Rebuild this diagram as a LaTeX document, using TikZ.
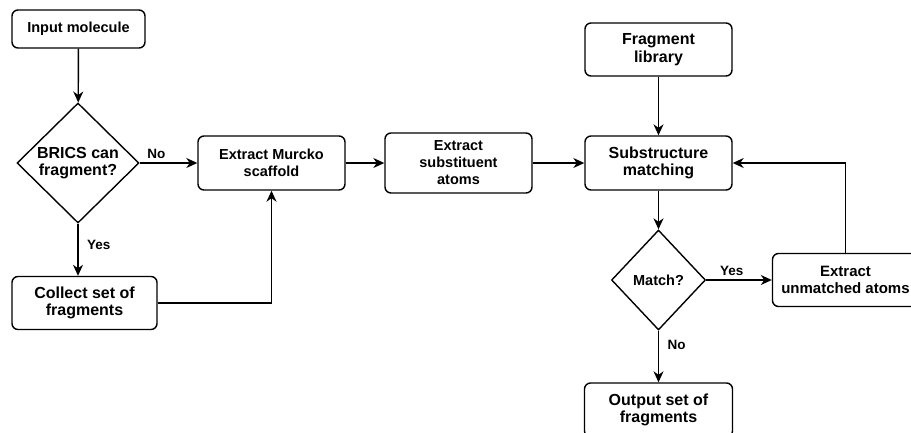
\documentclass[tikz,border=0pt]{standalone}
\usepackage{fontspec}
\setmainfont{Liberation Sans}
\usetikzlibrary{shapes.geometric,arrows.meta}
\tikzset{
  flowbox/.style={draw, line width=1.4pt, rounded corners=6pt, align=center, inner sep=0pt, minimum width=146pt, minimum height=54pt},
  choice/.style={draw, line width=1.4pt, diamond, align=center, inner sep=0pt},
  flowline/.style={->, line width=1.4pt},
  smalltext/.style={font=\fontsize{14.5}{17}\selectfont\bfseries},
  bigtext/.style={font=\fontsize{16}{17.5}\selectfont\bfseries},
  edgetext/.style={font=\fontsize{13.5}{16}\selectfont\bfseries}
}
\begin{document}
\begin{tikzpicture}[x=1pt, y=-1pt, >={Stealth[length=11pt,width=10pt,inset=3.5pt]}]
        \useasboundingbox (0,0) rectangle (911,432);
        \node (Brics) [choice, bigtext, minimum width=122pt, minimum height=120pt, aspect=1] at (78,163) {BRICS can\\fragment?};
        \node (Input) [above of=Brics, node distance=134pt, flowbox, smalltext, minimum width=133pt, minimum height=38pt, xshift=0.5pt] {Input molecule};
        \node (Collect) [below of=Brics, node distance=140pt, flowbox, bigtext, minimum width=145pt, minimum height=53pt, xshift=6.5pt] {Collect set of\\fragments};
        \node (Murcko) [right of=Brics, node distance=193.5pt, flowbox, smalltext, minimum width=147pt] {Extract Murcko\\scaffold};
        \node (Subst) [right of=Murcko, node distance=187pt, flowbox, smalltext, minimum width=147pt, minimum height=60pt] {Extract\\substituent\\atoms};
        \node (Match) [right of=Subst, node distance=200pt, flowbox, bigtext, minimum width=147pt] {Substructure\\matching};
        \node (Library) [above of=Match, node distance=113.5pt, flowbox, bigtext, minimum width=147pt, minimum height=53pt] {Fragment\\library};
        \node (IsMatch) [below of=Match, node distance=117pt, choice, smalltext, minimum width=94pt, minimum height=100pt, aspect=0.94] {Match?};
        \node (Unmatched) [right of=IsMatch, node distance=187pt, flowbox, font=\fontsize{15}{17.5}\selectfont\bfseries, minimum height=53pt] {Extract\\unmatched atoms};
        \node (Output) [below of=IsMatch, node distance=130pt, flowbox, bigtext, minimum width=148pt] {Output set of\\fragments};
        \draw [flowline] (Input) -- (Brics);
        \draw [flowline] (Brics) -- node [above, pos=0.29, edgetext] {No} (Murcko);
        \draw [flowline] (Brics.south) -- node [right, pos=0.4, xshift=5pt, edgetext] {Yes} (Brics.south |- Collect.north);
        \draw [flowline] (Collect.east) -| (Murcko.south);
        \draw [flowline] (Murcko) -- (Subst);
        \draw [flowline] (Subst) -- (Match);
        \draw [flowline] (Library) -- (Match);
        \draw [flowline] (Match) -- (IsMatch);
        \draw [flowline] (IsMatch) -- node [above, pos=0.39, edgetext] {Yes} (Unmatched);
        \draw [flowline] (IsMatch) -- node [right, pos=0.28, xshift=5pt, edgetext] {No} (Output);
        \draw [flowline] (Unmatched.north) |- (Match.east);
    \end{tikzpicture}
\end{document}
